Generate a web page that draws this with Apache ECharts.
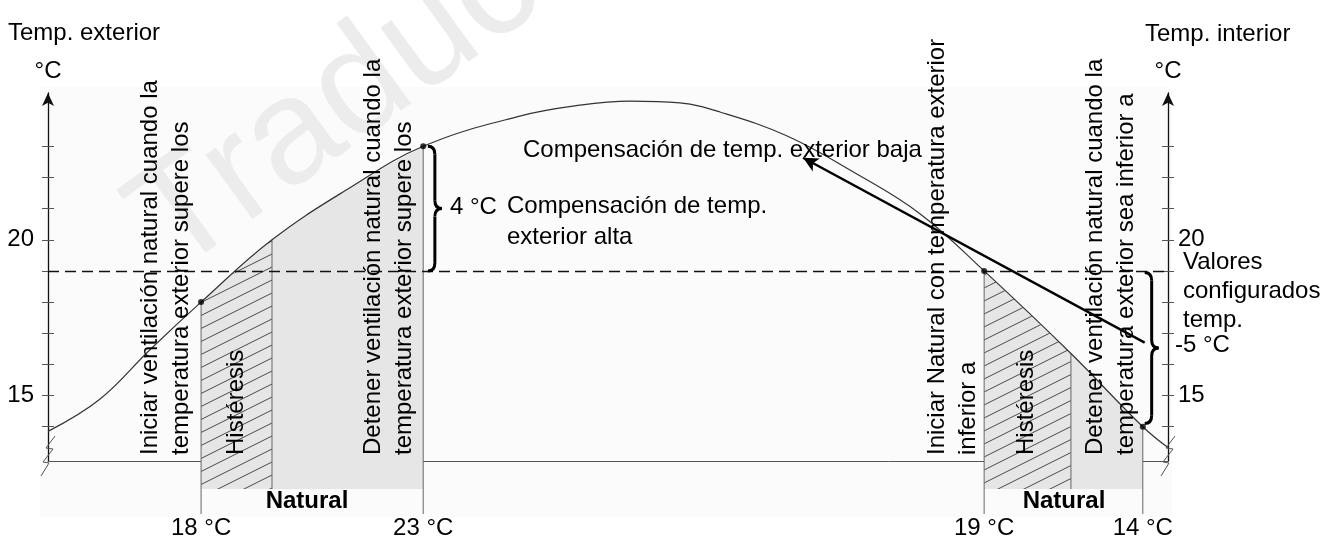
<!DOCTYPE html>
<html><head><meta charset="utf-8">
<script src="https://cdn.jsdelivr.net/npm/echarts@6/dist/echarts.min.js"></script>
<style>html,body{margin:0;padding:0;background:#fff}#c{width:1335px;height:540px}</style>
</head><body><div id="c"></div>
<script>
// ---- data ----
const curveHours = [0, 1.11, 2.19, 3.28, 4.8, 6.47, 8.04, 10.11, 11.4, 12.47, 13.54, 14.4, 15.84, 17.25, 18.69, 20.06, 21.92, 23.46, 24];
const curveTemp  = [13.85, 14.88, 16.48, 18.0, 20.0, 21.67, 23.0, 23.97, 24.32, 24.45, 24.39, 24.1, 23.33, 22.18, 20.83, 19.0, 16.35, 14.0, 13.33];
const setpointHours  = [3.28, 8.04, 20.06, 23.46];
const setpointTemp   = [18, 23, 19, 14];
const setpointLabels = ['18 °C', '23 °C', '19 °C', '14 °C'];
const hysteresisEndHours = [4.8, 21.92];
const configuredTemp = 19;
const highCompTemp = 23;   // 19 + 4
const lowCompTemp = 14;    // 19 - 5
const yTickValues = [14, 15, 16, 17, 18, 19, 20, 21, 22, 23];
const yLabelValues = [15, 20];
const zoneBottom = 12;
const setLineBottom = 11.2;
const arrowFrom = [23.5, 16.7];
const arrowTo = [16.18, 22.63];
const braceData = [[8.14, highCompTemp, configuredTemp], [23.5, 18.95, 14.1]];

const FONT = '"Liberation Sans", Arial, Helvetica, sans-serif';
const FS = 24;
const SMOOTH = 0.4;

function curveSlice(a, b) {
  const out = [];
  for (let i = 0; i < curveHours.length; i++) {
    if (curveHours[i] >= a - 1e-9 && curveHours[i] <= b + 1e-9) out.push([curveHours[i], curveTemp[i]]);
  }
  return out;
}
const curveData = curveHours.map((h, i) => [h, curveTemp[i]]);

// hatch pattern
const pc = document.createElement('canvas');
pc.width = 26; pc.height = 13;
const g = pc.getContext('2d');
g.fillStyle = '#e6e6e6'; g.fillRect(0, 0, 26, 13);
g.strokeStyle = '#4a4a4a'; g.lineWidth = 1;
[[0, 0], [-26, 0], [26, 0], [0, 13], [0, -13]].forEach(([dx, dy]) => {
  g.beginPath(); g.moveTo(0 + dx, 13 + dy); g.lineTo(26 + dx, 0 + dy); g.stroke();
});
const hatch = { image: pc, repeat: 'repeat' };

const chart = echarts.init(document.getElementById('c'), null, { renderer: 'canvas' });

function zoneSeries(a, b, color) {
  return {
    type: 'line', data: curveSlice(a, b), smooth: SMOOTH, symbol: 'none', clip: false,
    lineStyle: { width: 0 }, areaStyle: { color: color, opacity: 1, origin: zoneBottom },
    z: 1, silent: true
  };
}

const vlineData = [
  [setpointHours[0], setpointTemp[0], setLineBottom],
  [hysteresisEndHours[0], curveTemp[curveHours.indexOf(hysteresisEndHours[0])], zoneBottom],
  [setpointHours[1], setpointTemp[1], setLineBottom],
  [setpointHours[2], setpointTemp[2], setLineBottom],
  [hysteresisEndHours[1], curveTemp[curveHours.indexOf(hysteresisEndHours[1])], zoneBottom],
  [setpointHours[3], setpointTemp[3], setLineBottom]
];

function yAxisCfg(pos, outside, main) {
  return {
    type: 'value', min: 12.9, max: 24.71, position: pos,
    axisLine: main ? { show: true, symbol: ['none', 'arrow'], symbolSize: [9, 13], lineStyle: { color: '#111', width: 1.3 } } : { show: false },
    axisTick: { show: true, inside: !outside, customValues: yTickValues, length: 6, lineStyle: { color: '#555', width: 1 } },
    axisLabel: main ? { show: true, customValues: yLabelValues, margin: pos === 'left' ? 14 : 10, fontSize: FS, color: '#000', fontFamily: FONT } : { show: false },
    splitLine: { show: false },
    name: main ? '°C' : '', nameLocation: 'end', nameGap: 10,
    nameTextStyle: { fontSize: FS, color: '#000', fontFamily: FONT }
  };
}

const vTexts = [
  ['Iniciar ventilación natural cuando la\ntemperatura exterior supere los', 166],
  ['Histéresis', 236],
  ['Detener ventilación natural cuando la\ntemperatura exterior supere los', 389],
  ['Iniciar Natural con temperatura exterior\ninferior a', 953],
  ['Histéresis', 1026],
  ['Detener ventilación natural cuando la\ntemperatura exterior sea inferior a', 1111]
];
const hTexts = [
  ['Temp. exterior', 8, 33, 'left', 'normal', 30],
  ['Temp. interior', 1145, 34, 'left', 'normal', 30],
  ['4 °C', 450, 207, 'left', 'normal', 30],
  ['Compensación de temp.\nexterior alta', 507, 222, 'left', 'normal', 31],
  ['Compensación de temp. exterior baja', 523, 150, 'left', 'normal', 30],
  ['Valores\nconfigurados\ntemp.', 1183, 291, 'left', 'normal', 29],
  ['-5 °C', 1175, 345, 'left', 'normal', 30],
  ['Natural', 307, 501, 'center', 'bold', 30],
  ['Natural', 1064, 501, 'center', 'bold', 30]
];

const graphics = [
  { type: 'rect', shape: { x: 40, y: 87, width: 1132, height: 430 }, style: { fill: '#fbfbfb' }, z: -20, silent: true },
  { type: 'text', x: 150, y: 242, rotation: 36 * Math.PI / 180, z: -10, silent: true,
    style: { text: 'Traducción', fontSize: 150, fontFamily: FONT, fill: '#ececec', align: 'left', verticalAlign: 'middle' } },
  { type: 'polyline', shape: { points: [[41, 476], [49, 463], [43, 462], [53, 449], [46, 448], [55, 436]] }, style: { stroke: '#555', lineWidth: 1, fill: null }, z: 50 },
  { type: 'polyline', shape: { points: [[1161, 476], [1169, 463], [1163, 462], [1173, 449], [1166, 448], [1175, 436]] }, style: { stroke: '#555', lineWidth: 1, fill: null }, z: 50 }
];
vTexts.forEach(([t, x]) => graphics.push({
  type: 'text', x: x, y: 455, rotation: Math.PI / 2, z: 100, silent: true,
  style: { text: t, fontSize: FS, fontFamily: FONT, fill: '#000', align: 'left', verticalAlign: 'middle', lineHeight: 31 }
}));
hTexts.forEach(([t, x, y, al, fw, lh]) => graphics.push({
  type: 'text', x: x, y: y, z: 100, silent: true,
  style: { text: t, fontSize: FS, fontWeight: fw, fontFamily: FONT, fill: '#000', align: al, verticalAlign: 'middle', lineHeight: lh }
}));

const option = {
  animation: false,
  backgroundColor: '#fff',
  grid: { left: 48, right: 167, top: 93, bottom: 78, containLabel: false },
  xAxis: {
    type: 'value', min: 0, max: 24,
    axisLine: { show: true, lineStyle: { color: '#555', width: 1 } },
    axisTick: { show: false },
    splitLine: { show: false },
    axisLabel: {
      show: true, customValues: setpointHours, margin: 55, fontSize: FS, color: '#000', fontFamily: FONT,
      formatter: v => { const i = setpointHours.findIndex(s => Math.abs(s - v) < 1e-6); return i >= 0 ? setpointLabels[i] : ''; }
    }
  },
  yAxis: [yAxisCfg('left', true, true), yAxisCfg('left', false, false), yAxisCfg('right', true, true), yAxisCfg('right', false, false)],
  graphic: graphics,
  series: [
    zoneSeries(setpointHours[0], hysteresisEndHours[0], hatch),
    zoneSeries(hysteresisEndHours[0], setpointHours[1], '#e6e6e6'),
    zoneSeries(setpointHours[2], hysteresisEndHours[1], hatch),
    zoneSeries(hysteresisEndHours[1], setpointHours[3], '#e6e6e6'),
    {
      type: 'custom', data: vlineData, z: 2, silent: true, clip: false,
      renderItem: (params, api) => {
        const p1 = api.coord([api.value(0), api.value(1)]);
        const p2 = api.coord([api.value(0), api.value(2)]);
        return { type: 'line', shape: { x1: p1[0], y1: p1[1], x2: p2[0], y2: p2[1] }, style: { stroke: '#666', lineWidth: 1 } };
      }
    },
    {
      type: 'line', data: curveData, smooth: SMOOTH, symbol: 'none', z: 3, silent: true,
      lineStyle: { color: '#333', width: 1.2 },
      markLine: {
        silent: true, symbol: 'none', label: { show: false },
        lineStyle: { color: '#111', width: 1.4, type: [11, 6] },
        data: [{ yAxis: configuredTemp }]
      }
    },
    {
      type: 'scatter', data: setpointHours.map((h, i) => [h, setpointTemp[i]]), symbolSize: 6, z: 4, silent: true,
      itemStyle: { color: '#000' },
      markLine: {
        silent: true, symbol: ['none', 'arrow'], symbolSize: [11, 15], label: { show: false },
        lineStyle: { color: '#000', width: 2.4, type: 'solid' },
        data: [[{ coord: arrowFrom }, { coord: arrowTo }]]
      }
    },
    {
      type: 'custom', data: braceData, z: 5, silent: true, clip: false,
      renderItem: (params, api) => {
        const pT = api.coord([api.value(0), api.value(1)]);
        const pB = api.coord([api.value(0), api.value(2)]);
        const x0 = pT[0], yT = pT[1], yB = pB[1], ym = (yT + yB) / 2, w = 7, r = 8;
        const st = { stroke: '#000', lineWidth: 3, fill: null };
        return {
          type: 'group', children: [
            { type: 'bezierCurve', shape: { x1: x0, y1: yT, cpx1: x0 + w, cpy1: yT, x2: x0 + w, y2: yT + r }, style: st },
            { type: 'line', shape: { x1: x0 + w, y1: yT + r, x2: x0 + w, y2: ym - r }, style: st },
            { type: 'bezierCurve', shape: { x1: x0 + w, y1: ym - r, cpx1: x0 + w, cpy1: ym, x2: x0 + 2 * w, y2: ym }, style: st },
            { type: 'bezierCurve', shape: { x1: x0 + 2 * w, y1: ym, cpx1: x0 + w, cpy1: ym, x2: x0 + w, y2: ym + r }, style: st },
            { type: 'line', shape: { x1: x0 + w, y1: ym + r, x2: x0 + w, y2: yB - r }, style: st },
            { type: 'bezierCurve', shape: { x1: x0 + w, y1: yB - r, cpx1: x0 + w, cpy1: yB, x2: x0, y2: yB }, style: st }
          ]
        };
      }
    }
  ]
};
chart.setOption(option);
</script></body></html>
